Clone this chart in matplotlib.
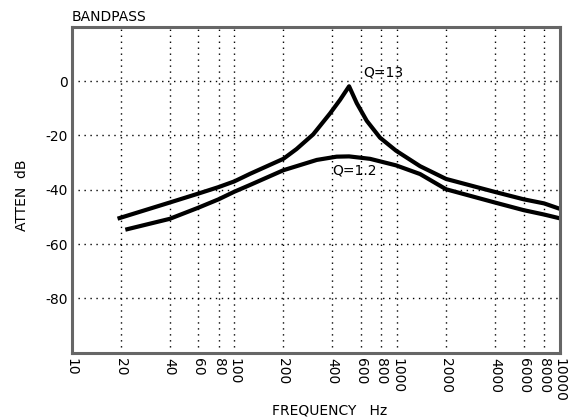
import matplotlib
matplotlib.use("Agg")
import matplotlib.pyplot as plt

# readings (frequency in Hz, attenuation in dB)
freq_q13 = [19.7, 40, 60, 80, 100, 125, 200, 241, 305, 387, 446, 507, 565, 651, 785, 985, 1384, 2000, 4000, 6000, 8000, 10000]
atten_q13 = [-50.4, -44.7, -41.4, -39.0, -36.9, -34.1, -28.6, -25.0, -19.6, -11.9, -6.9, -1.9, -8.1, -14.6, -20.8, -25.6, -31.3, -36.0, -40.8, -43.5, -45.0, -47.0]

freq_q12 = [22.0, 40, 60, 80, 100, 125, 200, 321, 425, 507, 682, 985, 1384, 2000, 4000, 6000, 8000, 10000]
atten_q12 = [-54.5, -50.7, -46.6, -43.5, -40.7, -38.2, -32.8, -29.0, -27.8, -27.7, -28.6, -31.0, -34.2, -39.8, -44.7, -47.5, -49.1, -50.5]

xticks = [10, 20, 40, 60, 80, 100, 200, 400, 600, 800, 1000, 2000, 4000, 6000, 8000, 10000]
yticks = [0, -20, -40, -60, -80]

fig, ax = plt.subplots(figsize=(5.73, 4.19), dpi=100)
fig.subplots_adjust(left=0.125, right=0.977, bottom=0.158, top=0.936)

ax.plot(freq_q13, atten_q13, color='black', lw=3.0, solid_joinstyle='round')
ax.plot(freq_q12, atten_q12, color='black', lw=3.0, solid_joinstyle='round')

ax.text(617, 3.3, "Q=13", fontsize=10, ha='left', va='center')
ax.text(397, -32.9, "Q=1.2", fontsize=10, ha='left', va='center')

ax.set_xscale("log")
ax.set_xlim(10, 10000)
ax.set_ylim(-100, 20)
ax.set_xticks(xticks)
ax.set_xticklabels([str(x) for x in xticks], rotation=270)
ax.xaxis.set_minor_locator(matplotlib.ticker.NullLocator())
ax.set_yticks(yticks)
ax.set_yticklabels([str(y) for y in yticks])
ax.tick_params(axis='x', length=0, pad=4, labelsize=10)
ax.tick_params(axis='y', length=0, pad=2.5, labelsize=10)

ax.grid(True, color='black', linestyle=(0, (1, 3.3)), linewidth=1.0)
for s in ax.spines.values():
    s.set_color('#666666')
    s.set_linewidth(2.2)

ax.set_title("BANDPASS", loc='left', fontsize=10, pad=4)
fig.text(330 / 573, 1 - 410 / 419, "FREQUENCY   Hz", fontsize=10, ha='center', va='center')
fig.text(22 / 573, 1 - 195 / 419, "ATTEN  dB", fontsize=10, rotation=90, ha='center', va='center')

fig.savefig("out.png", dpi=100)
